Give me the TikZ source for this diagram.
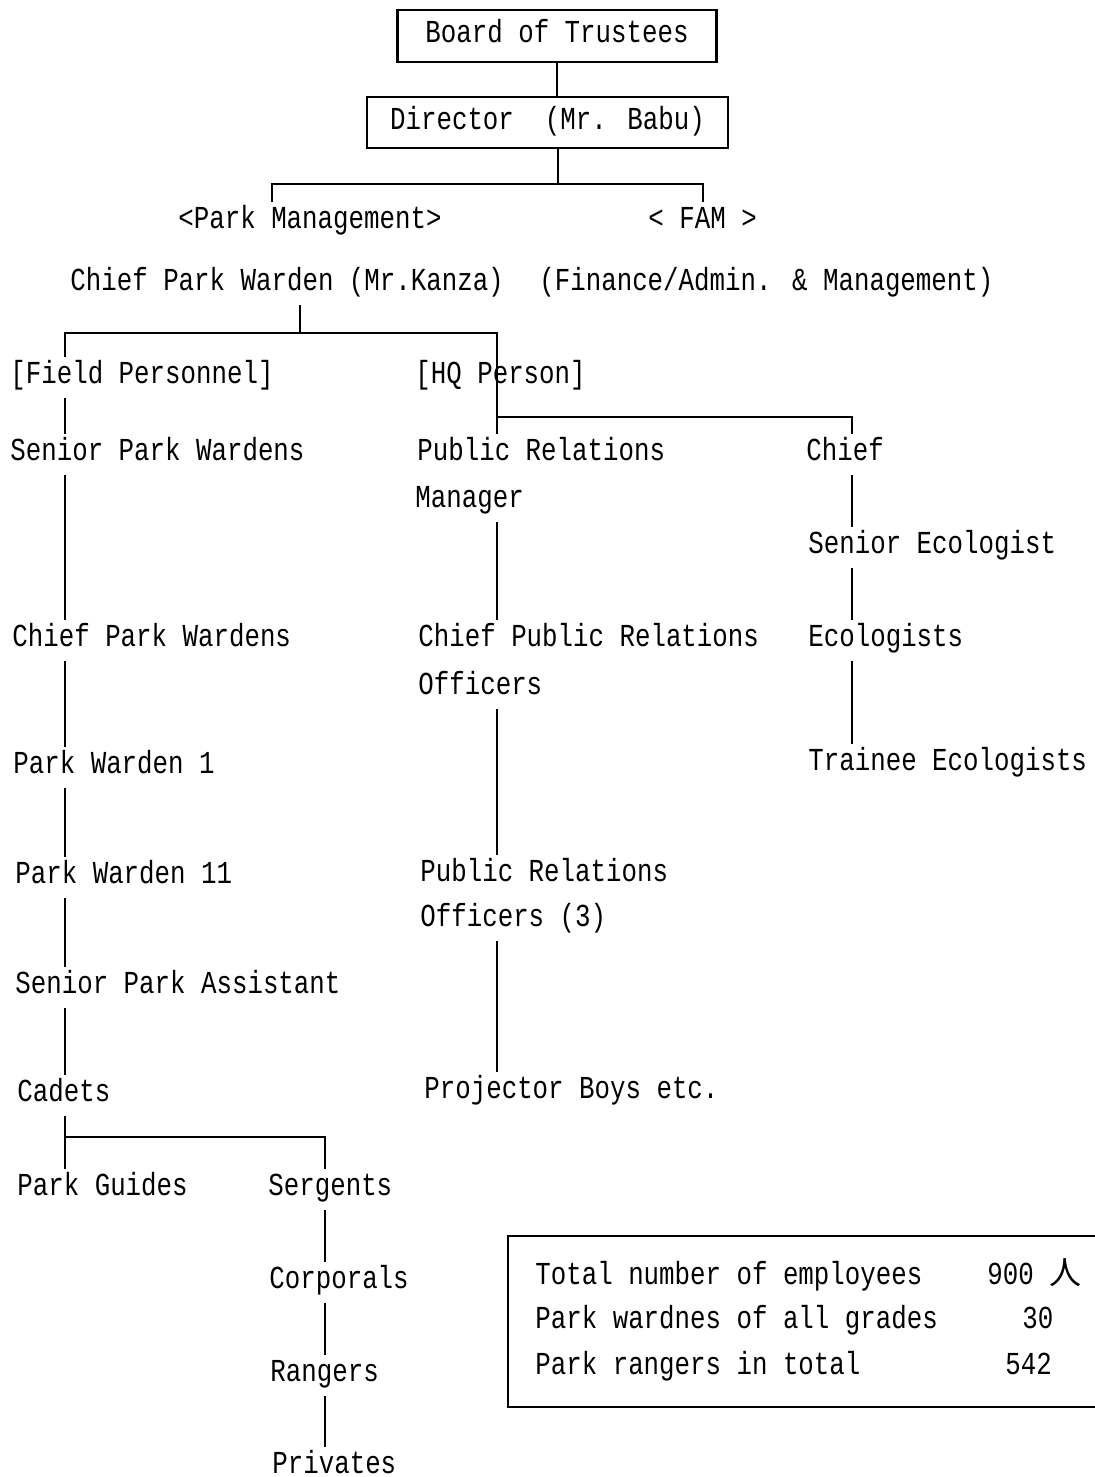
\documentclass[tikz,border=0pt]{standalone}
\usepackage{fontspec}
\setmainfont[FakeStretch=0.806]{Liberation Mono}
\newfontfamily\cjk{Noto Sans CJK JP}
\usetikzlibrary{positioning}

\begin{document}
\begin{tikzpicture}[x=0.5pt, y=-0.5pt, font=\fontsize{16}{19}\selectfont,
    lbl/.style={anchor=west, inner xsep=0pt, inner ysep=4.5pt, text height=9pt, text depth=2.5pt, yshift=-1.2pt},
    topbox/.style={draw, line width=1.3pt, inner sep=0pt, text height=9pt, text depth=2.5pt},
    link/.style={line width=1pt}]
  \useasboundingbox (0,0) rectangle (1095,1477);
  % Vedeni
  \node[topbox, minimum width=159.5pt, minimum height=26pt] (board) at (557,36) {Board of Trustees};
  \node[topbox, minimum width=180.5pt, minimum height=25.5pt] (dir) at (547.5,122.5) {Director~~(Mr. Babu)};
  \node[lbl] (pm) at (178,220) {<Park Management>};
  \node[lbl] (fam) at (648,220) {< FAM >};
  \node[lbl] (cpw) at (70,282) {Chief Park Warden (Mr.Kanza)};
  \node[lbl] (fin) at (539,282) {(Finance/Admin. \& Management)};
  % Terenni personal
  \node[lbl] (fp) at (10,375) {[Field Personnel]};
  \node[lbl] (spw) at (10,452) {Senior Park Wardens};
  \node[lbl] (cpws) at (12,638) {Chief Park Wardens};
  \node[lbl] (pw1) at (13,765) {Park Warden 1};
  \node[lbl] (pw2) at (15,875) {Park Warden 11};
  \node[lbl] (spa) at (15,985) {Senior Park Assistant};
  \node[lbl] (cadets) at (17,1093) {Cadets};
  \node[lbl] (guides) at (17,1187) {Park Guides};
  \node[lbl] (serg) at (268,1187) {Sergents};
  \node[lbl] (corp) at (269,1280) {Corporals};
  \node[lbl] (rang) at (270,1373) {Rangers};
  \node[lbl] (priv) at (272,1465) {Privates};
  % HQ
  \node[lbl] (hq) at (415,375) {[HQ Person]};
  \node[lbl] (prm) at (417,452) {Public Relations};
  \node[lbl] (prmb) at (415,499) {Manager};
  \node[lbl] (cpro) at (418,638) {Chief Public Relations};
  \node[lbl] (cprob) at (418,686) {Officers};
  \node[lbl] (pro) at (420,873) {Public Relations};
  \node[lbl] (prob) at (420,918) {Officers (3)};
  \node[lbl] (proj) at (424,1090) {Projector Boys etc.};
  \node[lbl] (chief) at (806,452) {Chief};
  \node[lbl] (seco) at (808,545) {Senior Ecologist};
  \node[lbl] (eco) at (808,638) {Ecologists};
  \node[lbl] (teco) at (808,762) {Trainee Ecologists};
  % Souhrn
  \node[lbl] (tot) at (535,1276) {Total number of employees};
  \node[lbl] (totn) at (987,1276) {900 {\cjk 人}};
  \node[lbl] (wg) at (535,1320) {Park wardnes of all grades};
  \node[lbl] (wgn) at (1022,1320) {30};
  \node[lbl] (rt) at (535,1366) {Park rangers in total};
  \node[lbl] (rtn) at (1005,1366) {542};
  \draw[line width=1.3pt] (1095,1236) -| (508,1407) -- (1095,1407);
  % Spoje
  \coordinate (j1) at (558,184);
  \coordinate (j2) at (300,333);
  \coordinate (j3) at (497,417);
  \coordinate (j4) at (65,1137);
  \coordinate (c0) at (272,0);
  \coordinate (c1) at (65,0);
  \coordinate (c3) at (852,0);
  \coordinate (c4) at (325,0);
  \draw[link] (board.south) -- (board.south |- dir.north);
  \draw[link] (j1 |- dir.south) -- (j1);
  \draw[link] (pm.north -| c0) |- (j1) -| (fam.north);
  \draw[link] (cpw.south -| j2) -- (j2);
  \draw[link] (fp.north -| c1) |- (j2) -| (prm.north -| j3);
  \draw[link] (j3) -| (chief.north -| c3);
  \foreach \a/\b in {fp/spw, spw/cpws, cpws/pw1, pw1/pw2, pw2/spa, spa/cadets, cadets/guides}
    \draw[link] (\a.south -| c1) -- (\b.north -| c1);
  \draw[link] (j4) -| (serg.north -| c4);
  \foreach \a/\b in {serg/corp, corp/rang, rang/priv}
    \draw[link] (\a.south -| c4) -- (\b.north -| c4);
  \foreach \a/\b in {prmb/cpro, cprob/pro, prob/proj}
    \draw[link] (\a.south -| j3) -- (\b.north -| j3);
  \foreach \a/\b in {chief/seco, seco/eco, eco/teco}
    \draw[link] (\a.south -| c3) -- (\b.north -| c3);
\end{tikzpicture}
\end{document}
